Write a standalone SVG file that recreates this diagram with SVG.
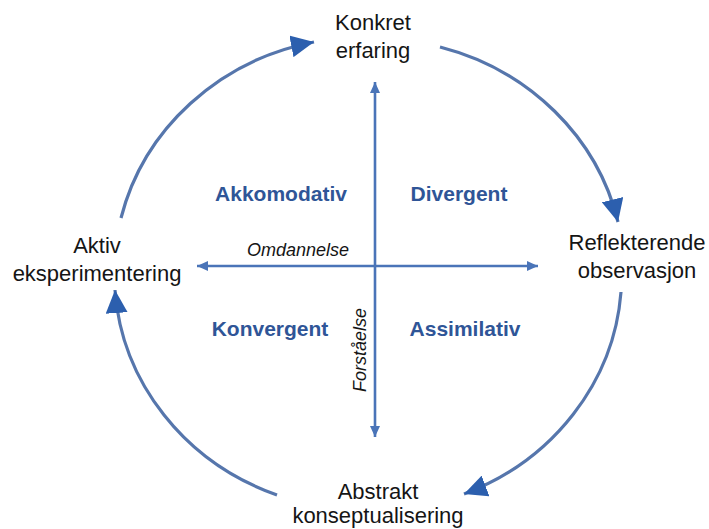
<svg xmlns="http://www.w3.org/2000/svg" width="709" height="529" viewBox="0 0 709 529">
<style>
.lbl{font-family:"Liberation Sans",Arial,sans-serif;font-size:22px;fill:#151515;text-anchor:middle}
.quad{font-family:"Liberation Sans",Arial,sans-serif;font-size:21px;font-weight:bold;fill:#2f5597;text-anchor:middle}
.ax{font-family:"Liberation Sans",Arial,sans-serif;font-size:18px;font-style:italic;fill:#151515}
.arc{fill:none;stroke:#5676ac;stroke-width:3.2;marker-end:url(#big)}
.axis{fill:none;stroke:#4a74b8;stroke-width:2.6;marker-start:url(#small);marker-end:url(#small)}
</style>
<defs>
<marker id="big" markerUnits="userSpaceOnUse" markerWidth="24" markerHeight="22" refX="23" refY="11" orient="auto" viewBox="0 0 24 22">
<path d="M0,0 L23,11 L0,22 z" fill="#2c5fae"/>
</marker>
<marker id="small" markerUnits="userSpaceOnUse" markerWidth="12" markerHeight="10" refX="11" refY="5" orient="auto-start-reverse" viewBox="0 0 12 10">
<path d="M0,0 L11,5 L0,10 z" fill="#4a74b8"/>
</marker>
</defs>
<g id="connectors">
<path class="arc" d="M121,218 A250,236 0 0 1 314,42"/>
<path class="arc" d="M440,47 A250,236 0 0 1 618,222"/>
<path class="arc" d="M621,292 A250,236 0 0 1 464,494"/>
<path class="arc" d="M277,495 A250,236 0 0 1 115,290"/>
<path class="axis" d="M375,437 L375,82"/>
<path class="axis" d="M197,266 L538,266"/>
</g>
<g id="konkret">
<text class="lbl" x="373" y="30">Konkret</text>
<text class="lbl" x="373" y="58">erfaring</text>
</g>
<g id="reflekterende">
<text class="lbl" x="637" y="250">Reflekterende</text>
<text class="lbl" x="637" y="278">observasjon</text>
</g>
<g id="abstrakt">
<text class="lbl" x="378" y="499">Abstrakt</text>
<text class="lbl" x="378" y="523">konseptualisering</text>
</g>
<g id="aktiv">
<text class="lbl" x="97" y="253">Aktiv</text>
<text class="lbl" x="97" y="281">eksperimentering</text>
</g>
<g id="akkomodativ"><text class="quad" x="281" y="201">Akkomodativ</text></g>
<g id="divergent"><text class="quad" x="459" y="201">Divergent</text></g>
<g id="konvergent"><text class="quad" x="270" y="336">Konvergent</text></g>
<g id="assimilativ"><text class="quad" x="465" y="336">Assimilativ</text></g>
<g id="omdannelse"><text class="ax" x="349" y="256" text-anchor="end">Omdannelse</text></g>
<g id="forstaelse"><text class="ax" transform="translate(366,350) rotate(-90)" text-anchor="middle">Forståelse</text></g>
</svg>
